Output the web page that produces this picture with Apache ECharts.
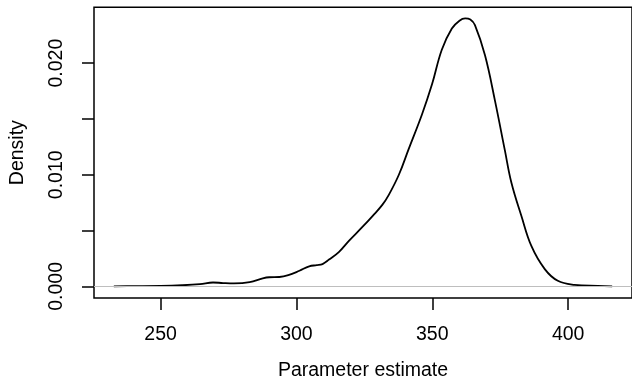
<!DOCTYPE html>
<html lang="en">
<head>
  <meta charset="UTF-8">
  <title>Density</title>
  <style>
    * { margin: 0; padding: 0; }
    body { background: #fff; }
    #main { width: 632px; height: 386px; }
  </style>
</head>
<body>
  <div id="main"></div>
  <script src="https://cdn.jsdelivr.net/npm/echarts@6/dist/echarts.min.js"></script>
  <script>
    // parameter estimate (x) and density (y)
    const estimates = [232.8, 240, 250, 258, 264.5, 269.3, 273, 277, 282.8, 287.6, 290, 293.7, 297,
      301.1, 304.7, 307.5, 309.6, 312, 315.7, 319.4, 324.2, 328, 331.6, 334, 337.7, 341.3, 346.2,
      349.9, 353.5, 357.2, 360, 362.1, 364, 365.7, 369.4, 373.1, 376.7, 379.1, 382.8, 386.5, 391.4,
      396.2, 402.3, 410.9, 416.2]
    const densities = [0.00001, 0.00002, 0.00004, 0.0001, 0.0002, 0.00035, 0.0003, 0.00027, 0.00038,
      0.00072, 0.00082, 0.00084, 0.001, 0.0014, 0.0018, 0.0019, 0.002, 0.0024, 0.0031, 0.0041,
      0.0053, 0.0063, 0.0073, 0.0082, 0.01, 0.0123, 0.0154, 0.0181, 0.0212, 0.0231, 0.0238, 0.024,
      0.0239, 0.0234, 0.0207, 0.0166, 0.0122, 0.0093, 0.0063, 0.0036, 0.00155, 0.0005, 0.00014,
      0.00004, 0.00001]
    const xTicks = [250, 300, 350, 400]
    const yTicks = [0, 0.005, 0.01, 0.015, 0.02]
    const yLabels = [0, 0.01, 0.02]

    const chart = echarts.init(document.getElementById('main'))
    const font = '"Liberation Sans", Arial, sans-serif'

    chart.setOption({
      animation: false,
      grid: {
        left: 93.6, right: -2.5, top: 7.3, bottom: 87,
        show: true, borderColor: '#000', borderWidth: 1.5
      },
      xAxis: {
        type: 'value', min: 225.5, max: 423.5,
        name: 'Parameter estimate', nameLocation: 'middle', nameGap: 63,
        nameTextStyle: { fontFamily: font, fontSize: 19.5, color: '#000' },
        axisLine: { show: false, onZero: false },
        splitLine: { show: false },
        axisTick: { show: true, length: 12, lineStyle: { color: '#000', width: 1.5 }, customValues: xTicks },
        axisLabel: { fontFamily: font, fontSize: 19.5, color: '#000', margin: 27, customValues: xTicks }
      },
      yAxis: {
        type: 'value', min: -0.00104, max: 0.025,
        name: 'Density', nameLocation: 'middle', nameGap: 66,
        nameTextStyle: { fontFamily: font, fontSize: 19.5, color: '#000' },
        axisLine: { show: false, onZero: false },
        splitLine: { show: false },
        axisTick: { show: true, length: 12, lineStyle: { color: '#000', width: 1.5 }, customValues: yTicks },
        axisLabel: {
          fontFamily: font, fontSize: 19.5, color: '#000', margin: 27, rotate: 90,
          customValues: yLabels,
          formatter: v => v.toFixed(3)
        }
      },
      series: [{
        type: 'line',
        data: estimates.map((x, i) => [x, densities[i]]),
        smooth: 0.4,
        showSymbol: false,
        lineStyle: { color: '#000', width: 1.8 },
        markLine: {
          silent: true, symbol: 'none', label: { show: false },
          lineStyle: { color: '#bebebe', width: 1, type: 'solid' },
          data: [{ yAxis: 0 }]
        }
      }]
    })
  </script>
</body>
</html>
